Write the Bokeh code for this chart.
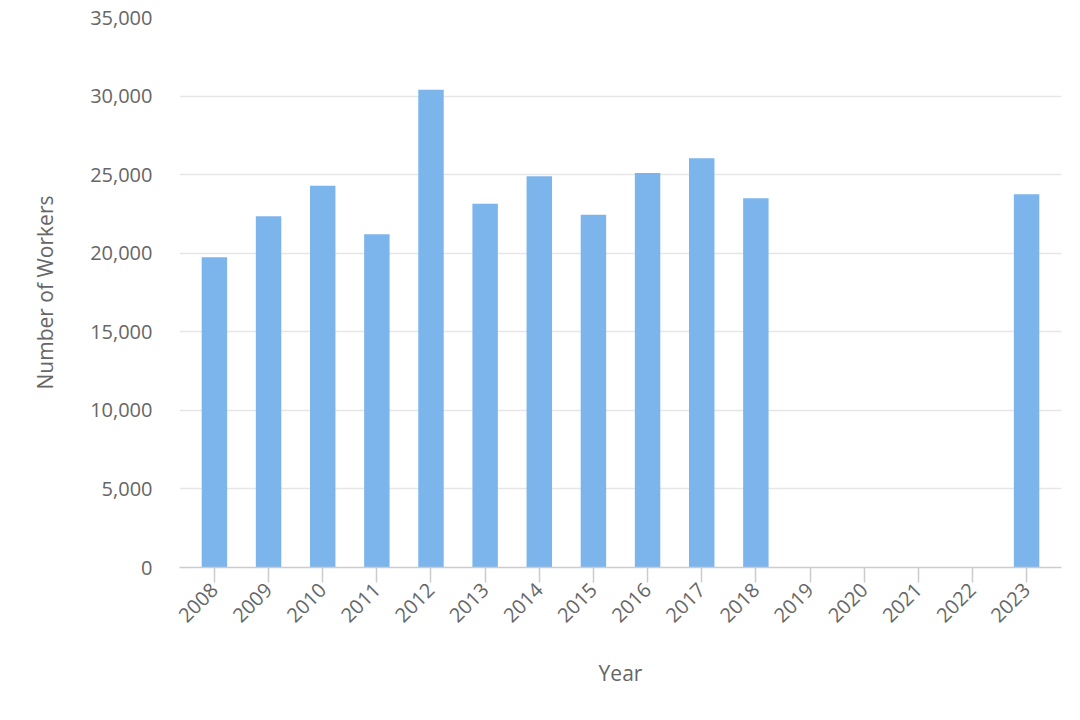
import math
from bokeh.plotting import figure
from bokeh.models import FactorRange, Range1d, ColumnDataSource, NumeralTickFormatter, FixedTicker
from bokeh.embed import file_html
from bokeh.resources import INLINE

years = ["2008", "2009", "2010", "2011", "2012", "2013", "2014", "2015",
         "2016", "2017", "2018", "2019", "2020", "2021", "2022", "2023"]
workers = [19750, 22350, 24300, 21200, 30400, 23150, 24900, 22450,
           25100, 26050, 23500, None, None, None, None, 23750]
y_ticks = [0, 5000, 10000, 15000, 20000, 25000, 30000, 35000]

bar_x = [y for y, v in zip(years, workers) if v is not None]
bar_v = [v for v in workers if v is not None]
src = ColumnDataSource(dict(x=bar_x, v=bar_v))

FONT = "Open Sans"
p = figure(x_range=FactorRange(*years, range_padding=0.145, range_padding_units="absolute"),
           y_range=Range1d(0, 35000),
           width=1072, height=712, output_backend="svg", toolbar_location=None,
           min_border_left=179, min_border_right=11, min_border_top=17, min_border_bottom=145)
p.vbar(x="x", top="v", width=0.47, source=src, fill_color="#7cb5ec", line_color=None)

p.outline_line_color = None
p.xgrid.grid_line_color = None
p.ygrid.grid_line_color = "#e6e6e6"
p.ygrid.grid_line_width = 1.5

p.yaxis.ticker = FixedTicker(ticks=y_ticks)
p.yaxis.formatter = NumeralTickFormatter(format="0,0")
p.yaxis.axis_line_color = None
p.yaxis.major_tick_line_color = None
p.yaxis.minor_tick_line_color = None
p.yaxis.major_tick_out = 0
p.yaxis.major_tick_in = 0
p.yaxis.major_label_standoff = 27
p.yaxis.major_label_text_font = FONT
p.yaxis.major_label_text_font_size = "20px"
p.yaxis.major_label_text_color = "#666666"
p.yaxis.axis_label = "Number of Workers"
p.yaxis.axis_label_text_font = FONT
p.yaxis.axis_label_text_font_size = "21px"
p.yaxis.axis_label_text_font_style = "normal"
p.yaxis.axis_label_text_color = "#666666"
p.yaxis.axis_label_standoff = 28

p.xaxis.axis_line_color = "#cccccc"
p.xaxis.axis_line_width = 1.5
p.xaxis.major_tick_line_color = "#cccccc"
p.xaxis.major_tick_line_width = 1.5
p.xaxis.major_tick_out = 15
p.xaxis.major_tick_in = 0
p.xaxis.major_label_orientation = math.pi / 4
p.xaxis.major_label_standoff = 4
p.xaxis.major_label_text_font = FONT
p.xaxis.major_label_text_font_size = "20px"
p.xaxis.major_label_text_color = "#666666"
p.xaxis.axis_label = "Year"
p.xaxis.axis_label_text_font = FONT
p.xaxis.axis_label_text_font_size = "21px"
p.xaxis.axis_label_text_font_style = "normal"
p.xaxis.axis_label_text_color = "#666666"
p.xaxis.axis_label_standoff = 27

open("out.html", "w").write(file_html(p, INLINE))
